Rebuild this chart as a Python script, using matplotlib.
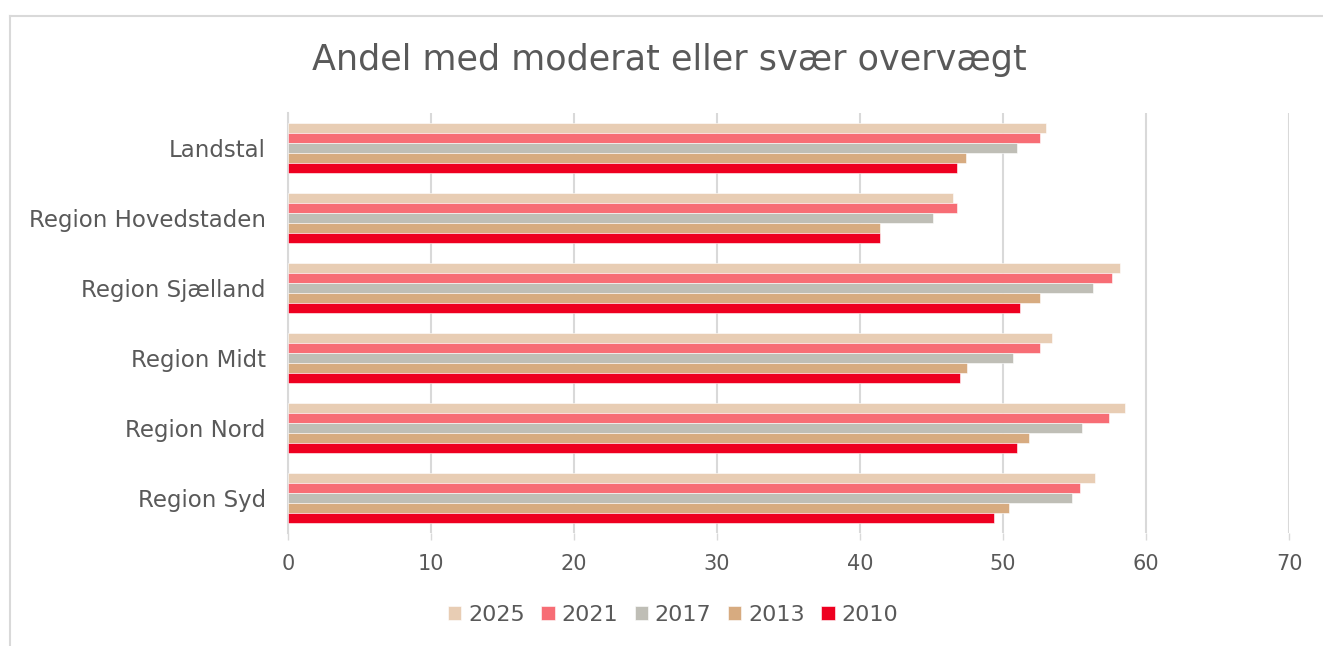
import matplotlib

matplotlib.use("Agg")
import matplotlib.pyplot as plt
import numpy as np
from matplotlib.lines import Line2D

plt.rcParams["font.family"] = ["DejaVu Sans"]

categories = ["Landstal", "Region Hovedstaden", "Region Sjælland", "Region Midt", "Region Nord", "Region Syd"]
years = ["2025", "2021", "2017", "2013", "2010"]
v2025 = [53.0, 46.5, 58.2, 53.4, 58.5, 56.4]
v2021 = [52.6, 46.8, 57.6, 52.6, 57.4, 55.4]
v2017 = [51.0, 45.1, 56.3, 50.7, 55.5, 54.8]
v2013 = [47.4, 41.4, 52.6, 47.5, 51.8, 50.4]
v2010 = [46.8, 41.4, 51.2, 47.0, 51.0, 49.4]
series = [v2025, v2021, v2017, v2013, v2010]
colors = ["#E8CDB4", "#F76D75", "#BFBEB6", "#D7AB80", "#EE0020"]

TXT = "#595959"
GRID = "#D9D9D9"

fig = plt.figure(figsize=(13.23, 6.46), dpi=100)
ax = fig.add_axes([288 / 1323, 1 - 533 / 646, 1001 / 1323, 420 / 646])

# chart frame: only left and top edges are inside the image
bx, by = 9.5 / 1323, 1 - 15.5 / 646
fig.add_artist(Line2D([bx, bx], [0, by], transform=fig.transFigure, color=GRID, linewidth=1.5))
fig.add_artist(Line2D([bx, 1], [by, by], transform=fig.transFigure, color=GRID, linewidth=1.5))

n = len(categories)
pos = np.arange(n)
h = 0.142
for i, (vals, col, yr) in enumerate(zip(series, colors, years)):
    offs = (i - 2) * h
    ax.barh(pos + offs, vals, height=h, color=col, edgecolor="white", linewidth=0.4, label=yr, zorder=3)

ax.set_xlim(0, 70)
ax.set_ylim(n - 0.5, -0.5)
ax.set_xticks(range(0, 71, 10))
ax.set_yticks(pos)
ax.set_yticklabels(categories)
ax.grid(axis="x", color=GRID, linewidth=1.5, zorder=0)
for s in ["top", "right", "bottom"]:
    ax.spines[s].set_visible(False)
ax.spines["left"].set_color(GRID)
ax.spines["left"].set_linewidth(1.5)
ax.tick_params(axis="y", length=0, pad=16, labelsize=16.5, labelcolor=TXT)
ax.tick_params(axis="x", length=5, width=1, color=GRID, pad=10, labelsize=15, labelcolor=TXT)

fig.text(0.506, 1 - 60 / 646, "Andel med moderat eller svær overvægt", ha="center", va="center",
         fontsize=25.2, color=TXT)

leg = fig.legend(loc="center", bbox_to_anchor=(673 / 1323, 1 - 615 / 646), ncol=5, frameon=False,
                 fontsize=16, labelcolor=TXT, handlelength=0.6, handleheight=0.6, handletextpad=0.3,
                 columnspacing=0.75)

fig.savefig("out.png", dpi=100)
